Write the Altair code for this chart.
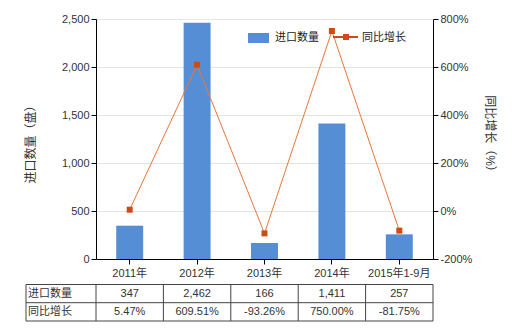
import altair as alt
import pandas as pd

categories = ["2011年", "2012年", "2013年", "2014年", "2015年1-9月"]
qty = [347, 2462, 166, 1411, 257]
growth = [5.47, 609.51, -93.26, 750.00, -81.75]
qty_labels = ["347", "2,462", "166", "1,411", "257"]
growth_labels = ["5.47%", "609.51%", "-93.26%", "750.00%", "-81.75%"]
row_names = ["进口数量", "同比增长"]
series_names = ["进口数量", "同比增长"]

df = pd.DataFrame({
    "cat": categories,
    "qty": qty,
    "growth": growth,
    "qty_label": qty_labels,
    "growth_label": growth_labels,
})
one = pd.DataFrame({"k": [0]})

W, H = 337, 240
FONT = "Liberation Sans, Noto Sans CJK SC, sans-serif"
BAR = "#558ed5"
LINE = "#e8773c"
MARK = "#cc4c14"
TXT = "#333333"
TBL = "#444444"

x_enc = alt.X(
    "cat:N", sort=categories,
    scale=alt.Scale(paddingInner=0, paddingOuter=0),
    axis=alt.Axis(title=None, labelAngle=0, tickSize=5, labelPadding=3,
                  domainColor="#000", tickColor="#000", labelColor=TXT,
                  labelFontSize=11),
)

bars = alt.Chart(df).mark_bar(color=BAR, width=alt.RelativeBandSize(0.4)).encode(
    x=x_enc,
    y=alt.Y("qty:Q", scale=alt.Scale(domain=[0, 2500]),
            axis=alt.Axis(title="进口数量（盘）", values=[0, 500, 1000, 1500, 2000, 2500],
                          labelExpr="format(datum.value, ',')", grid=True, gridColor="#e4e4e4",
                          domainColor="#000", tickColor="#000", tickSize=5,
                          labelPadding=2, labelColor=TXT,
                          titleX=-66, titleY=122, titleAlign="center",
                          titleBaseline="middle", titleFontWeight="normal",
                          titleFontSize=12, titleColor=TXT)),
)

y_right = alt.Y("growth:Q", scale=alt.Scale(domain=[-200, 800]),
                axis=alt.Axis(title="同比增长（%）", orient="right",
                              values=[-200, 0, 200, 400, 600, 800],
                              labelExpr="datum.value + '%'", grid=False,
                              domainColor="#000", tickColor="#000", tickSize=5,
                              labelPadding=2, labelColor=TXT,
                              titleX=56, titleY=117, titleAlign="center",
                              titleBaseline="middle", titleFontWeight="normal",
                              titleFontSize=12, titleColor=TXT))

line = alt.Chart(df).mark_line(color=LINE, strokeWidth=1).encode(x=x_enc, y=y_right)
pts = alt.Chart(df).mark_point(shape="square", filled=True, size=36, color=MARK, opacity=1).encode(
    x=x_enc, y=y_right)
line_layer = alt.layer(line, pts)

# table
r1, r2 = 274.6, 292.8
t_qty = alt.Chart(df).mark_text(fontSize=11, color=TXT).encode(
    x=x_enc, y=alt.value(r1), text="qty_label:N")
t_gr = alt.Chart(df).mark_text(fontSize=11, color=TXT).encode(
    x=x_enc, y=alt.value(r2), text="growth_label:N")
lab1 = alt.Chart(one).mark_text(fontSize=11, color=TXT, align="left").encode(
    x=alt.value(-68), y=alt.value(r1), text=alt.value(row_names[0]))
lab2 = alt.Chart(one).mark_text(fontSize=11, color=TXT, align="left").encode(
    x=alt.value(-68), y=alt.value(r2), text=alt.value(row_names[1]))

hrules = [
    alt.Chart(one).mark_rule(color=TBL, strokeWidth=1).encode(
        x=alt.value(-70), x2=alt.value(W), y=alt.value(yy))
    for yy in (265.5, 283.7, 302)
]
vr_cat = alt.Chart(df).mark_rule(color=TBL, strokeWidth=1).encode(
    x=alt.X("cat:N", sort=categories, bandPosition=0,
            scale=alt.Scale(paddingInner=0, paddingOuter=0),
            axis=alt.Axis(title=None, labelAngle=0, tickSize=5, labelPadding=3,
                          domainColor="#000", tickColor="#000", labelColor=TXT,
                          labelFontSize=11)),
    y=alt.value(265.5), y2=alt.value(302))
vr_edges = [
    alt.Chart(one).mark_rule(color=TBL, strokeWidth=1).encode(
        x=alt.value(xx), y=alt.value(265.5), y2=alt.value(302))
    for xx in (-70, W)
]

# legend
leg_rect = alt.Chart(one).mark_rect(color=BAR).encode(
    x=alt.value(152), x2=alt.value(173), y=alt.value(14), y2=alt.value(24))
leg_t1 = alt.Chart(one).mark_text(fontSize=11, color="#222", align="left").encode(
    x=alt.value(179), y=alt.value(18.5), text=alt.value(series_names[0]))
leg_line = alt.Chart(one).mark_rule(color=MARK, strokeWidth=2).encode(
    x=alt.value(237), x2=alt.value(262), y=alt.value(18))
leg_pt = alt.Chart(one).mark_point(shape="square", filled=True, size=36, color=MARK, opacity=1).encode(
    x=alt.value(250), y=alt.value(18))
leg_t2 = alt.Chart(one).mark_text(fontSize=11, color="#222", align="left").encode(
    x=alt.value(266), y=alt.value(18.5), text=alt.value(series_names[1]))

chart = alt.layer(
    bars, line_layer, t_qty, t_gr, lab1, lab2, *hrules, vr_cat, *vr_edges,
    leg_rect, leg_t1, leg_line, leg_pt, leg_t2,
).resolve_scale(y="independent").properties(
    width=W, height=H,
    autosize=alt.AutoSizeParams(type="none"),
    padding={"left": 96, "top": 19, "right": 87, "bottom": 71},
).configure(font=FONT).configure_view(stroke=None).configure_axis(
    labelFont=FONT, titleFont=FONT, labelFontSize=11)

chart.save("out.html", embed_options={"renderer": "svg", "actions": False})
